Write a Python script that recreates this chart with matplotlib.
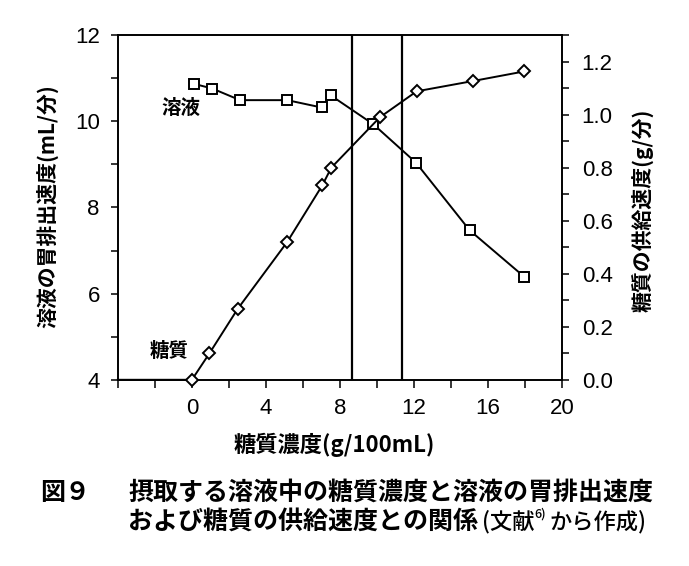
import matplotlib
matplotlib.use("Agg")
import matplotlib.pyplot as plt
from matplotlib.ticker import FixedLocator, MultipleLocator

plt.rcParams["font.family"] = ["Noto Sans CJK JP", "DejaVu Sans"]

# ── data ───────────────────────────────────────────────────────────────────
# 溶液 (gastric emptying rate, mL/min) – left axis
solution_conc = [0.1, 1.1, 2.6, 5.15, 7.0, 7.5, 9.8, 12.1, 15.0, 17.95]
solution_rate = [10.87, 10.76, 10.49, 10.49, 10.32, 10.6, 9.93, 9.04, 7.47, 6.39]

# 糖質 (carbohydrate delivery rate, g/min) – right axis
sugar_conc = [-4.0, 0.0, 0.95, 2.47, 5.15, 7.04, 7.53, 10.15, 12.14, 15.2, 17.95]
sugar_rate = [0.0, 0.0, 0.10, 0.267, 0.52, 0.733, 0.80, 0.99, 1.088, 1.127, 1.163]

boundary_conc = [8.65, 11.35]

x_labels = [0, 4, 8, 12, 16, 20]
left_labels = [4, 6, 8, 10, 12]
right_labels = [0.0, 0.2, 0.4, 0.6, 0.8, 1.0, 1.2]

TICK_FONT = "Liberation Sans"

# ── figure ─────────────────────────────────────────────────────────────────
fig = plt.figure(figsize=(6.89, 5.66), dpi=100)
ax = fig.add_axes([0.171, 0.329, 0.645, 0.609])
ax2 = ax.twinx()

for a in (ax, ax2):
    for s in a.spines.values():
        s.set_linewidth(1.2)

ax.set_xlim(-4, 20)
ax.set_ylim(4, 12)
ax2.set_ylim(0, 1.3)

for xb in boundary_conc:
    ax.axvline(xb, color="black", linewidth=1.6)

ax.plot(solution_conc, solution_rate, color="black", linewidth=1.4,
        marker="s", markersize=7, markerfacecolor="white",
        markeredgecolor="black", markeredgewidth=1.4, zorder=3)
ax2.plot(sugar_conc, sugar_rate, color="black", linewidth=1.4,
         marker="D", markersize=6, markerfacecolor="white",
         markeredgecolor="black", markeredgewidth=1.4,
         markevery=list(range(1, len(sugar_conc))), zorder=3, clip_on=False)

# ticks
ax.xaxis.set_major_locator(FixedLocator(x_labels))
ax.xaxis.set_minor_locator(FixedLocator([-4, -2, 2, 6, 10, 14, 18]))
ax.yaxis.set_major_locator(FixedLocator(left_labels))
ax.yaxis.set_minor_locator(MultipleLocator(1))
ax2.yaxis.set_major_locator(FixedLocator(right_labels))
ax2.yaxis.set_minor_locator(MultipleLocator(0.1))
ax2.set_yticklabels([f"{v:.1f}" for v in right_labels])

ax.tick_params(axis="x", which="both", direction="out", length=6, width=1.1)
ax.tick_params(axis="x", which="major", pad=7, labelsize=16)
ax.tick_params(axis="y", which="both", direction="out", length=5, width=1.1)
ax.tick_params(axis="y", which="major", pad=8, labelsize=16)
ax2.tick_params(axis="y", which="both", direction="out", length=5, width=1.1)
ax2.tick_params(axis="y", which="major", pad=9, labelsize=16)
for lbl in ax.get_xticklabels() + ax.get_yticklabels() + ax2.get_yticklabels():
    lbl.set_fontfamily(TICK_FONT)

# series labels
ax.text(-0.6, 10.3, "溶液", fontsize=14, fontweight="bold", ha="center", va="center")
ax.text(-1.25, 4.66, "糖質", fontsize=14, fontweight="bold", ha="center", va="center")

# axis titles
fig.text(0.068, 0.636, "溶液の胃排出速度(mL/分)", rotation=90, fontsize=15,
         fontweight="bold", ha="center", va="center")
fig.text(0.933, 0.629, "糖質の供給速度(g/分)", rotation=90, fontsize=15,
         fontweight="bold", ha="center", va="center")
fig.text(0.485, 0.214, "糖質濃度(g/100mL)", fontsize=16, fontweight="bold",
         ha="center", va="center")

# caption
fig.text(0.058, 0.129, "図９", fontsize=18, fontweight="bold", va="center")
fig.text(0.186, 0.129, "摂取する溶液中の糖質濃度と溶液の胃排出速度",
         fontsize=18, fontweight="bold", va="center")
line2 = fig.text(0.186, 0.078, "および糖質の供給速度との関係",
                 fontsize=18, fontweight="bold", va="center")


def _after(txt, gap=0.0):
    fig.canvas.draw()
    bb = txt.get_window_extent().transformed(fig.transFigure.inverted())
    return bb.x1 + gap


part_a = fig.text(_after(line2, 0.006), 0.078, "(文献", fontsize=16,
                  fontweight="medium", va="center")
part_b = fig.text(_after(part_a), 0.092, "6)", fontsize=9,
                  fontweight="medium", va="center")
fig.text(_after(part_b, 0.004), 0.078, "から作成)", fontsize=16,
         fontweight="medium", va="center")

fig.savefig("out.png", dpi=100)
